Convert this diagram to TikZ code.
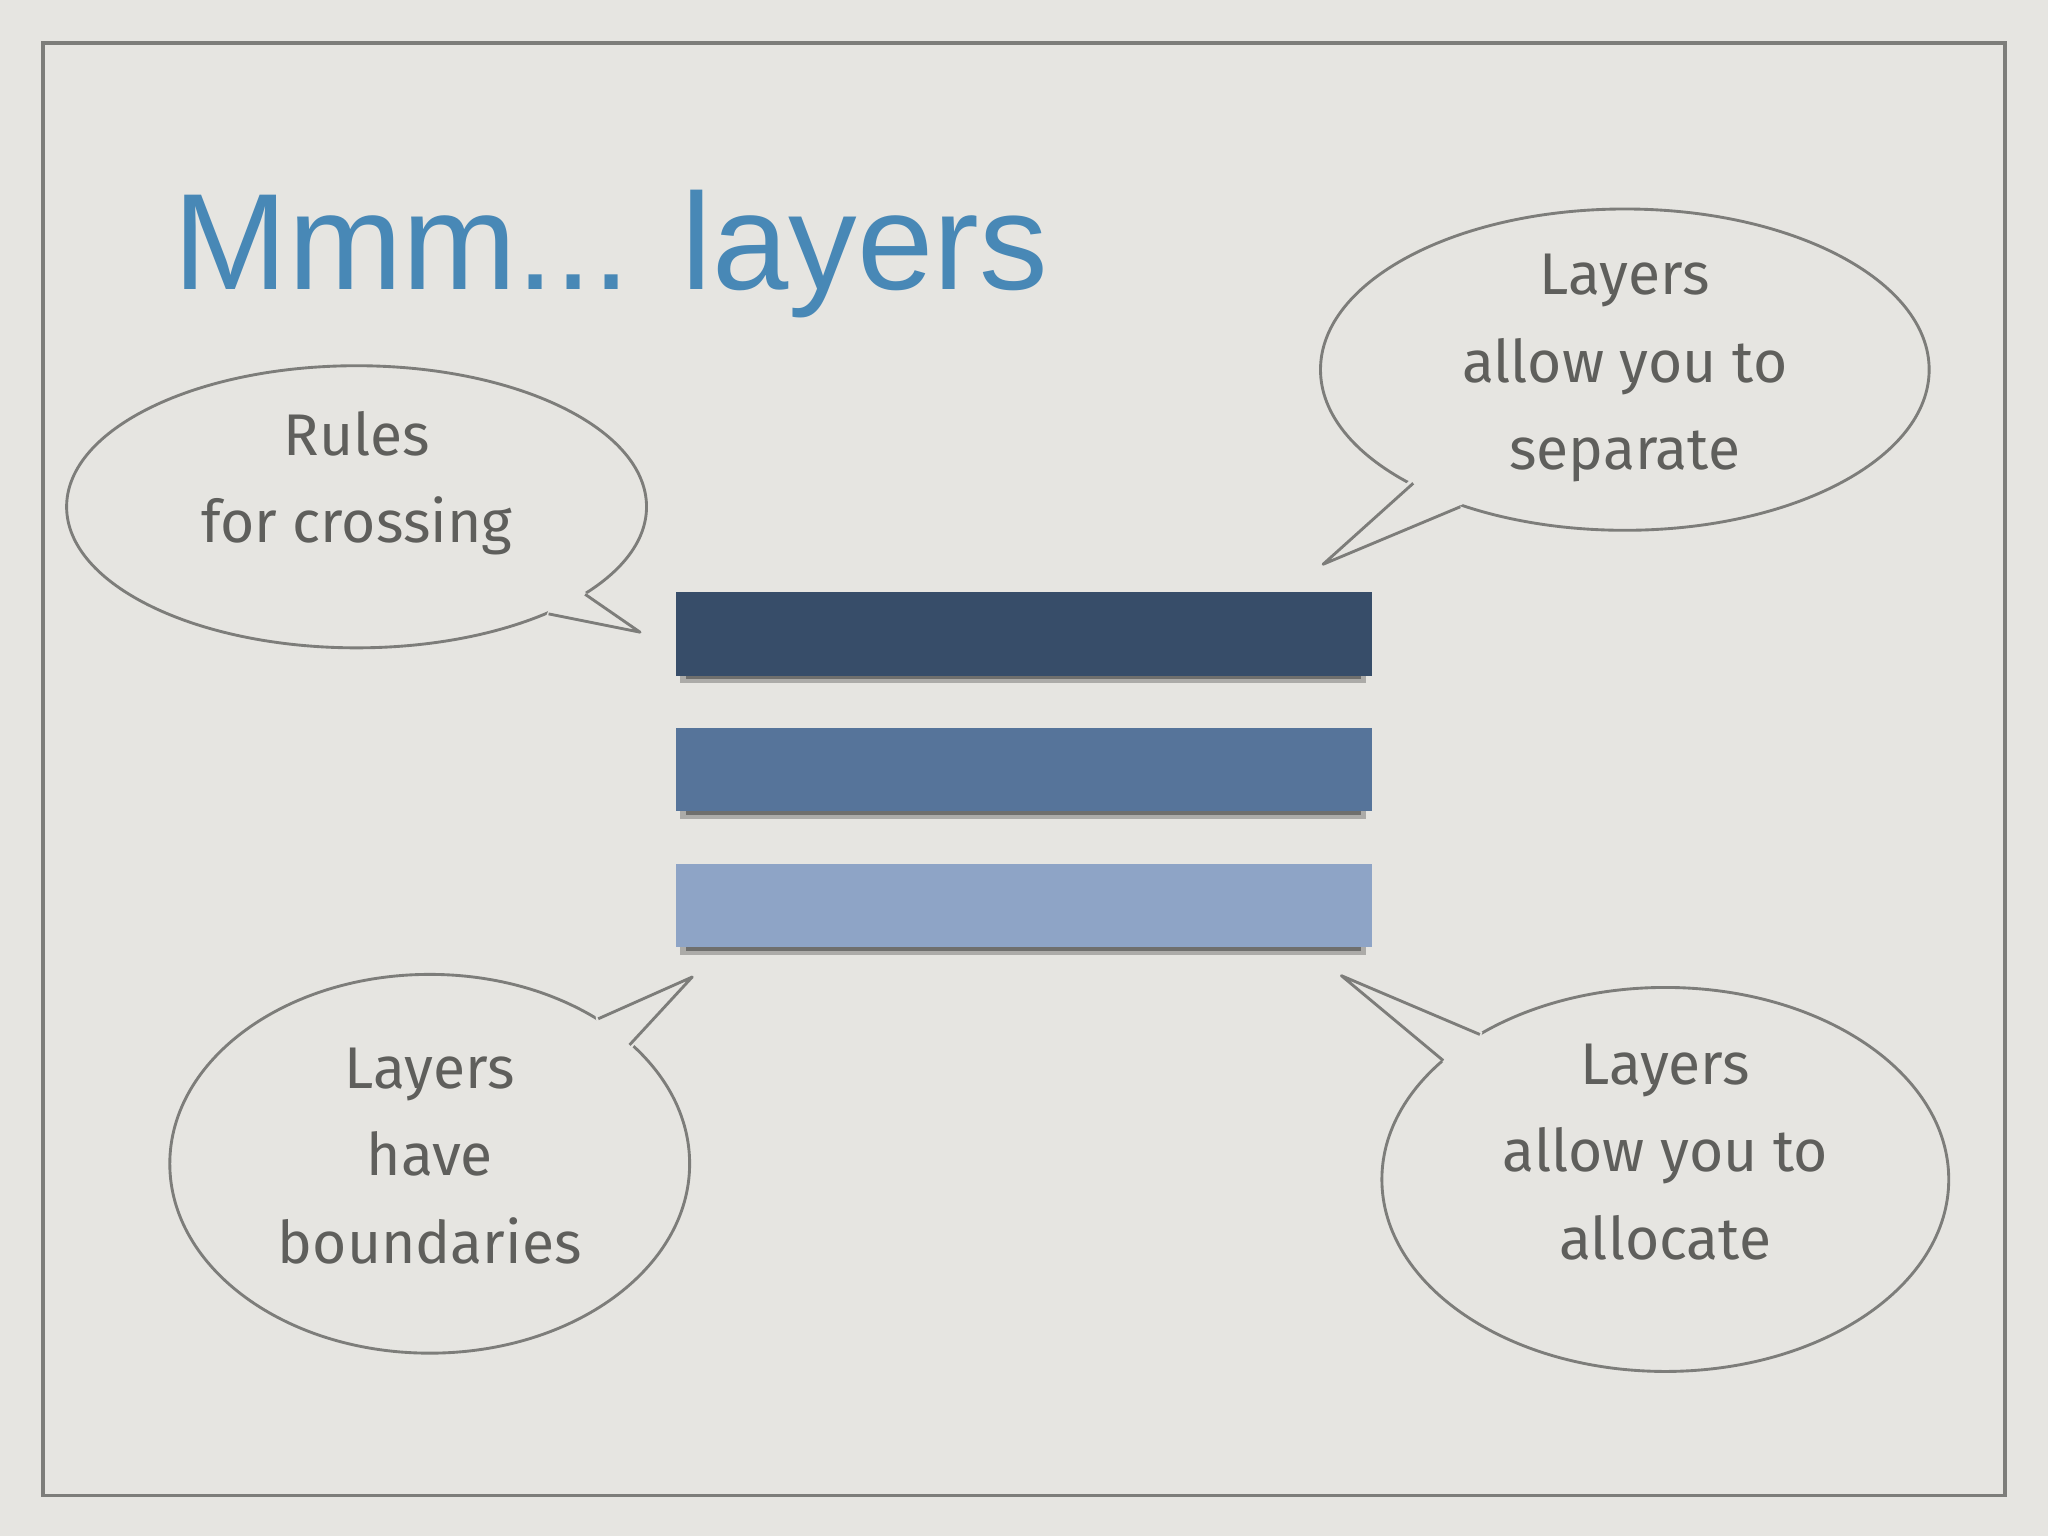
\documentclass[tikz,border=0pt]{standalone}
\usepackage{fontspec}
\setmainfont{Liberation Sans}
\newfontfamily\handfont{Fira Sans}
\definecolor{bg}{RGB}{230,229,225}
\definecolor{frame}{RGB}{125,125,122}
\definecolor{titleblue}{RGB}{72,136,182}
\definecolor{barA}{RGB}{55,77,105}
\definecolor{barB}{RGB}{86,116,154}
\definecolor{barC}{RGB}{142,164,198}
\definecolor{txt}{RGB}{95,95,92}
\begin{document}
\begin{tikzpicture}[x=1pt,y=-1pt,
  bubble/.style={draw=frame,line width=2.2pt,fill=bg},
  tailfill/.style={fill=bg},
  tailline/.style={draw=frame,line width=2.2pt,line join=round},
  btext/.style={font=\handfont\fontsize{45}{67}\selectfont,text=txt,align=center},
  bar/.style={minimum width=533pt,minimum height=64pt,inner sep=0pt,anchor=north west}]
\fill[bg] (0,0) rectangle (1568,1176);
\useasboundingbox (0,0) rectangle (1568,1176);
\draw[frame,line width=2.5pt] (33,33) rectangle (1535,1145);
\node[anchor=base west,text=titleblue,font=\fontsize{105}{105}\selectfont,inner sep=0pt] (title) at (133,222) {Mmm... layers};
% bars
\foreach \y/\c/\n in {453/barA/b1,557/barB/b2,661/barC/b3}{
  \fill[black,opacity=0.25] (521,\y+64) rectangle (1046,\y+70);
  \fill[black,opacity=0.35] (525,\y+64) rectangle (1042,\y+67);
  \node[bar,fill=\c] (\n) at (517,\y) {};
}
% bubble 1
\draw[bubble] (273,388) ellipse [x radius=222,y radius=108];
\fill[tailfill] (446,452) -- (490,484) -- (418,472) -- (425,455) -- cycle;
\draw[tailline] (448,455) -- (490,484) -- (420,470);
\node[btext] (t1) at (273,370) {Rules\\for crossing};
% bubble 2
\draw[bubble] (1244,283) ellipse [x radius=233,y radius=123];
\fill[tailfill] (1080,367) -- (1013,432) -- (1120,386) -- (1105,362) -- cycle;
\draw[tailline] (1082,370) -- (1013,432) -- (1118,388);
\node[btext] (t2) at (1244,282) {Layers\\allow you to\\separate};
% bubble 3
\draw[bubble] (329,891) ellipse [x radius=199,y radius=145];
\fill[tailfill] (456,778) -- (530,748) -- (484,802) -- (460,800) -- cycle;
\draw[tailline] (458,780) -- (530,748) -- (482,800);
\node[btext] (t3) at (329,885) {Layers\\have\\boundaries};
% bubble 4
\draw[bubble] (1275,903) ellipse [x radius=217,y radius=147];
\fill[tailfill] (1107,815) -- (1027,747) -- (1135,790) -- (1128,815) -- cycle;
\draw[tailline] (1105,812) -- (1027,747) -- (1133,792);
\node[btext] (t4) at (1275,882) {Layers\\allow you to\\allocate};
\end{tikzpicture}
\end{document}
